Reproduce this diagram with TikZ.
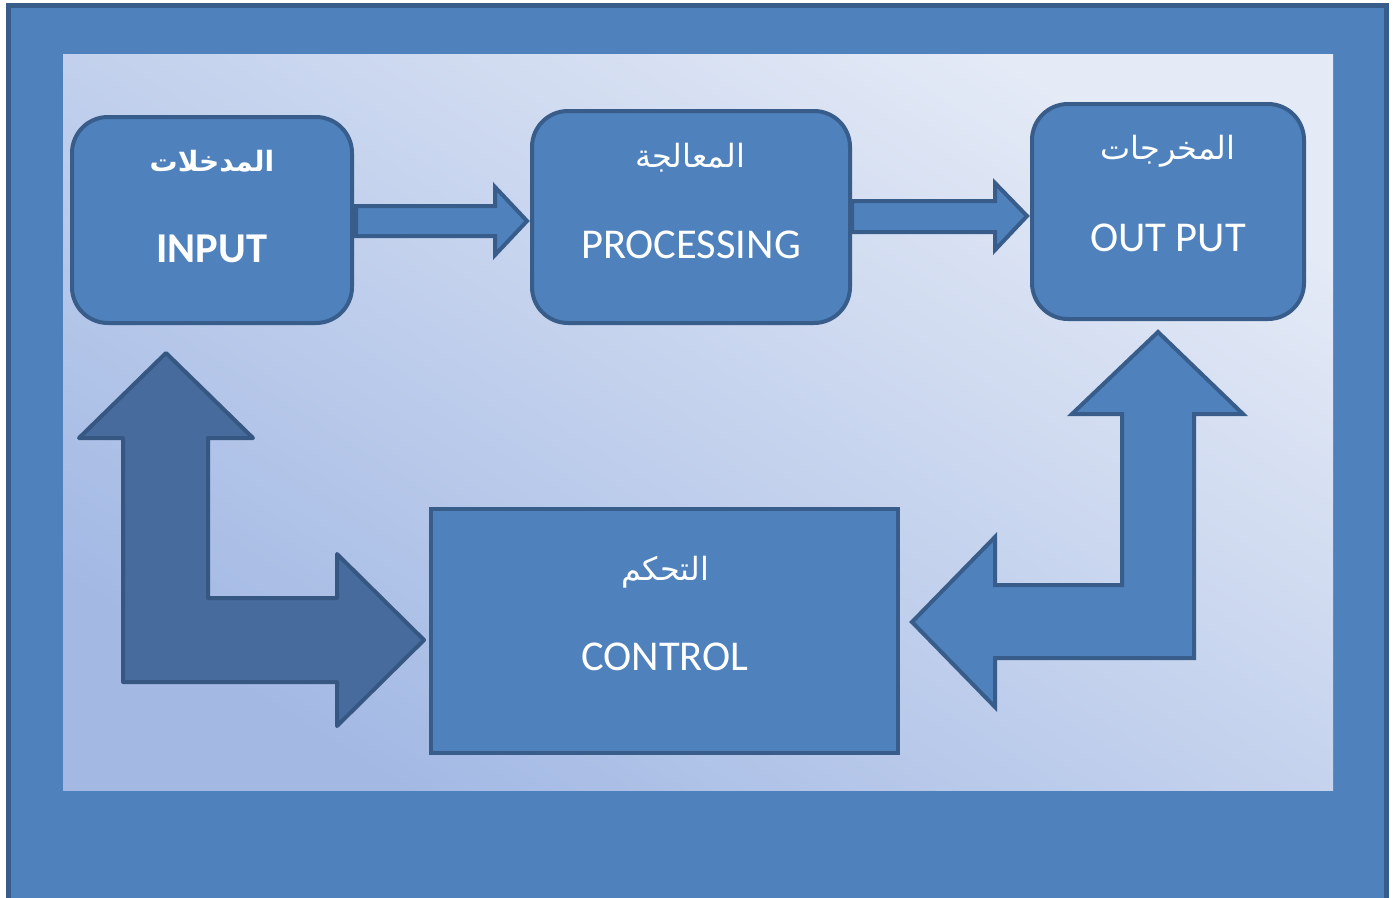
\documentclass[tikz,border=0pt]{standalone}
\usepackage{fontspec}
\setmainfont{Carlito}
\newfontfamily\arabicfont[Script=Arabic]{DejaVu Sans}
\TeXXeTstate=1
\definecolor{fillblue}{HTML}{4F81BD}
\definecolor{lineblue}{HTML}{385D8A}
\definecolor{darkfill}{HTML}{466B9C}
\definecolor{darkline}{HTML}{365781}
\definecolor{bglight}{HTML}{E4EAF6}
\definecolor{bgdark}{HTML}{A3B9E4}
\tikzset{
  roundbox/.style={draw=lineblue, line width=4pt, fill=fillblue, rounded corners=36pt},
  sqbox/.style={draw=lineblue, line width=3.5pt, fill=fillblue},
  blockarrow/.style={draw=lineblue, line width=4pt, fill=fillblue, line join=miter},
  darkarrow/.style={draw=darkline, line width=4pt, fill=darkfill, line join=round},
  lightarrow/.style={draw=lineblue, line width=4pt, fill=fillblue, line join=miter},
  artxt/.style={text=white, font=\arabicfont\fontsize{32}{38}\selectfont},
  artxtb/.style={text=white, font=\arabicfont\bfseries\fontsize{28}{34}\selectfont},
  entxt/.style={text=white, font=\fontsize{42.5}{50}\selectfont},
}
\begin{document}
\begin{tikzpicture}[x=1pt,y=-1pt]
\clip (0,0) rectangle (1396,897);
\fill[white] (0,0) rectangle (1396,897);
% outer frame
\draw[fill=fillblue, draw=lineblue, line width=5pt] (8.5,5.5) rectangle (1386.5,920);
% inner gradient panel
\shade[top color=bglight, bottom color=bgdark, shading angle=-32] (63,54) rectangle (1333,790);
% boxes
\draw[roundbox] (72,117) rectangle (352,323);
\draw[roundbox] (532,111) rectangle (850,323);
\draw[roundbox] (1032,104) rectangle (1304,319);
\draw[sqbox] (431,509) rectangle (898,753);
\node (inA) at (212,161) [artxtb] {\beginR المدخلات\endR};
\node (inE) at (212,249) [entxt] {\bfseries INPUT};
\node (prA) at (690,158) [artxt] {\beginR المعالجة\endR};
\node (prE) at (691,245) [entxt] {PROCESSING};
\node (ouA) at (1168,151) [artxt] {\beginR المخرجات\endR};
\node (ouE) at (1168,238) [entxt] {OUT PUT};
\node (coA) at (665,572) [artxt] {\beginR التحكم\endR};
\node (coE) at (665,657) [entxt] {CONTROL};
% straight arrows
\draw[blockarrow] (356,206) -- (495,206) -- (495,187) -- (527,221) -- (495,255) -- (495,236) -- (356,236) -- cycle;
\draw[blockarrow] (852,201) -- (995,201) -- (995,183) -- (1027,216) -- (995,250) -- (995,232) -- (852,232) -- cycle;
% left L arrow
\draw[darkarrow] (166,353) -- (253,438) -- (208,438) -- (208,598) -- (337,598) -- (337,554) -- (424,640) -- (337,726) -- (337,682) -- (123,682) -- (123,438) -- (79,438) -- cycle;
% right L arrow
\draw[lightarrow] (1158,332) -- (1243,414) -- (1194,414) -- (1194,658) -- (995,658) -- (995,707) -- (912,622) -- (995,537) -- (995,585) -- (1122,585) -- (1122,414) -- (1072,414) -- cycle;
\end{tikzpicture}
\end{document}
